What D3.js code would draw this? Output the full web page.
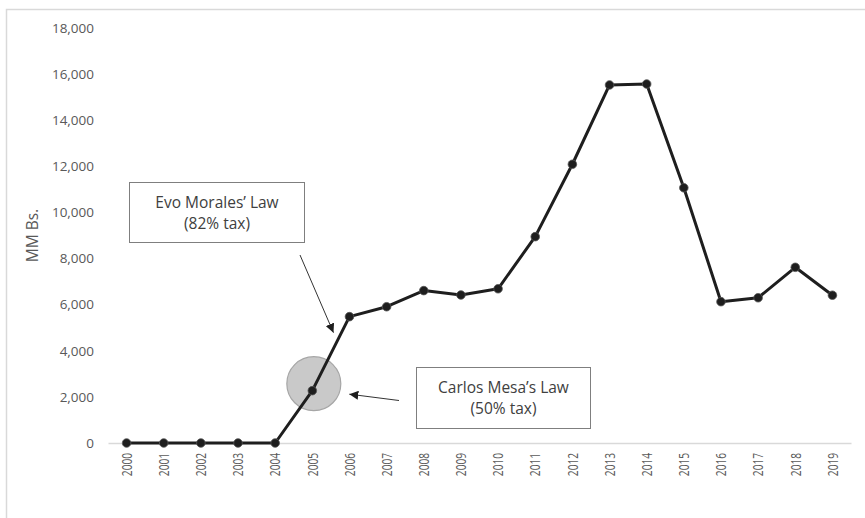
<!DOCTYPE html>
<html>
<head>
<meta charset="utf-8">
<script src="https://cdn.jsdelivr.net/npm/d3@7"></script>
<style>
  html, body { margin: 0; padding: 0; background: #fff; }
  svg { display: block; }
  text { font-family: "Open Sans", "Noto Sans", sans-serif; }
</style>
</head>
<body>
<svg id="chart" width="865" height="518"></svg>
<script>
const years = ["2000","2001","2002","2003","2004","2005","2006","2007","2008","2009",
               "2010","2011","2012","2013","2014","2015","2016","2017","2018","2019"];
const values = [0, 0, 0, 0, 0, 2270, 5480, 5910, 6610, 6420,
                6690, 8950, 12090, 15530, 15570, 11070, 6130, 6300, 7620, 6410];
const yTicks = [0, 2000, 4000, 6000, 8000, 10000, 12000, 14000, 16000, 18000];
const yTitle = "MM Bs.";
const annotations = [
  { lines: ["Evo Morales\u2019 Law", "(82% tax)"], year: "2006" },
  { lines: ["Carlos Mesa\u2019s Law", "(50% tax)"], year: "2005" }
];

const svg = d3.select("#chart");

// outer frame (only top/left visible)
svg.append("rect").attr("x", 6.5).attr("y", 9.5).attr("width", 900).attr("height", 600)
  .attr("fill", "none").attr("stroke", "#d9d9d9").attr("stroke-width", 1.5);

const x = d3.scaleBand().domain(years).range([108, 851]);
const y = d3.scaleLinear().domain([0, 18000]).range([443, 28]);
const cx = d => x(d) + x.bandwidth() / 2;

// y axis labels
const yAxis = d3.axisLeft(y).tickValues(yTicks).tickFormat(d3.format(",")).tickSize(0).tickPadding(0);
const gy = svg.append("g").attr("transform", "translate(94,0)").call(yAxis);
gy.select(".domain").remove();
gy.selectAll("text").attr("fill", "#595959").style("font-size", "13.5px")
  .style("font-family", "'Open Sans', sans-serif");

// x axis
const xAxis = d3.axisBottom(x).tickSize(0).tickPadding(0);
const gx = svg.append("g").attr("transform", `translate(0,${y(0)})`).call(xAxis);
gx.select(".domain").attr("stroke", "#d9d9d9").attr("stroke-width", 1.5);
gx.selectAll("text")
  .attr("fill", "#595959").style("font-size", "15px")
  .style("font-family", "'Open Sans', sans-serif")
  .attr("text-anchor", "end")
  .attr("transform", "rotate(-90) scale(0.68,1)")
  .attr("x", -14.5).attr("y", 0).attr("dy", "0.35em");

// y title
svg.append("text")
  .attr("transform", `translate(38,${(y(0) + y(18000)) / 2}) rotate(-90)`)
  .attr("text-anchor", "middle")
  .attr("fill", "#595959").style("font-size", "15.5px")
  .text(yTitle);

// highlight circle for 2005
const i2005 = years.indexOf("2005");
svg.append("circle")
  .attr("cx", cx("2005") + 1.5).attr("cy", y(values[i2005]) - 7).attr("r", 27)
  .attr("fill", "#c9c9c9").attr("stroke", "#a6a6a6").attr("stroke-width", 1.2);

// line
const line = d3.line().x((d, i) => cx(years[i])).y(d => y(d));
svg.append("path").datum(values).attr("d", line)
  .attr("fill", "none").attr("stroke", "#1e1e1e").attr("stroke-width", 3)
  .attr("stroke-linejoin", "round");

svg.append("g").selectAll("circle").data(values).join("circle")
  .attr("cx", (d, i) => cx(years[i])).attr("cy", d => y(d)).attr("r", 4.3)
  .attr("fill", "#1e1e1e").attr("stroke", "#555").attr("stroke-width", 0.8);

// arrow marker
svg.append("defs").append("marker")
  .attr("id", "arr").attr("viewBox", "0 0 10 10").attr("refX", 10).attr("refY", 5)
  .attr("markerWidth", 9).attr("markerHeight", 9).attr("markerUnits", "userSpaceOnUse")
  .attr("orient", "auto")
  .append("path").attr("d", "M0,0 L10,5 L0,10 Z").attr("fill", "#1e1e1e");

// annotation boxes
const boxes = [
  { a: annotations[0], x0: 129.5, y0: 182.5, w: 175, h: 60,
    arrow: [300, 255, cx("2006") - 16, y(values[6]) + 16] },
  { a: annotations[1], x0: 416.5, y0: 367.5, w: 174, h: 61,
    arrow: [399, 400.5, cx("2005") + 37, y(values[i2005]) + 3.5] }
];
boxes.forEach(b => {
  svg.append("rect").attr("x", b.x0).attr("y", b.y0).attr("width", b.w).attr("height", b.h)
    .attr("fill", "#fff").attr("stroke", "#7f7f7f").attr("stroke-width", 1);
  b.a.lines.forEach((t, k) => {
    svg.append("text")
      .attr("x", b.x0 + b.w / 2).attr("y", b.y0 + 20 + k * 21).attr("dy", "0.35em")
      .attr("text-anchor", "middle").attr("fill", "#404040").style("font-size", "15.5px")
      .text(t);
  });
  svg.append("line")
    .attr("x1", b.arrow[0]).attr("y1", b.arrow[1]).attr("x2", b.arrow[2]).attr("y2", b.arrow[3])
    .attr("stroke", "#333").attr("stroke-width", 1).attr("marker-end", "url(#arr)");
});
</script>
</body>
</html>
